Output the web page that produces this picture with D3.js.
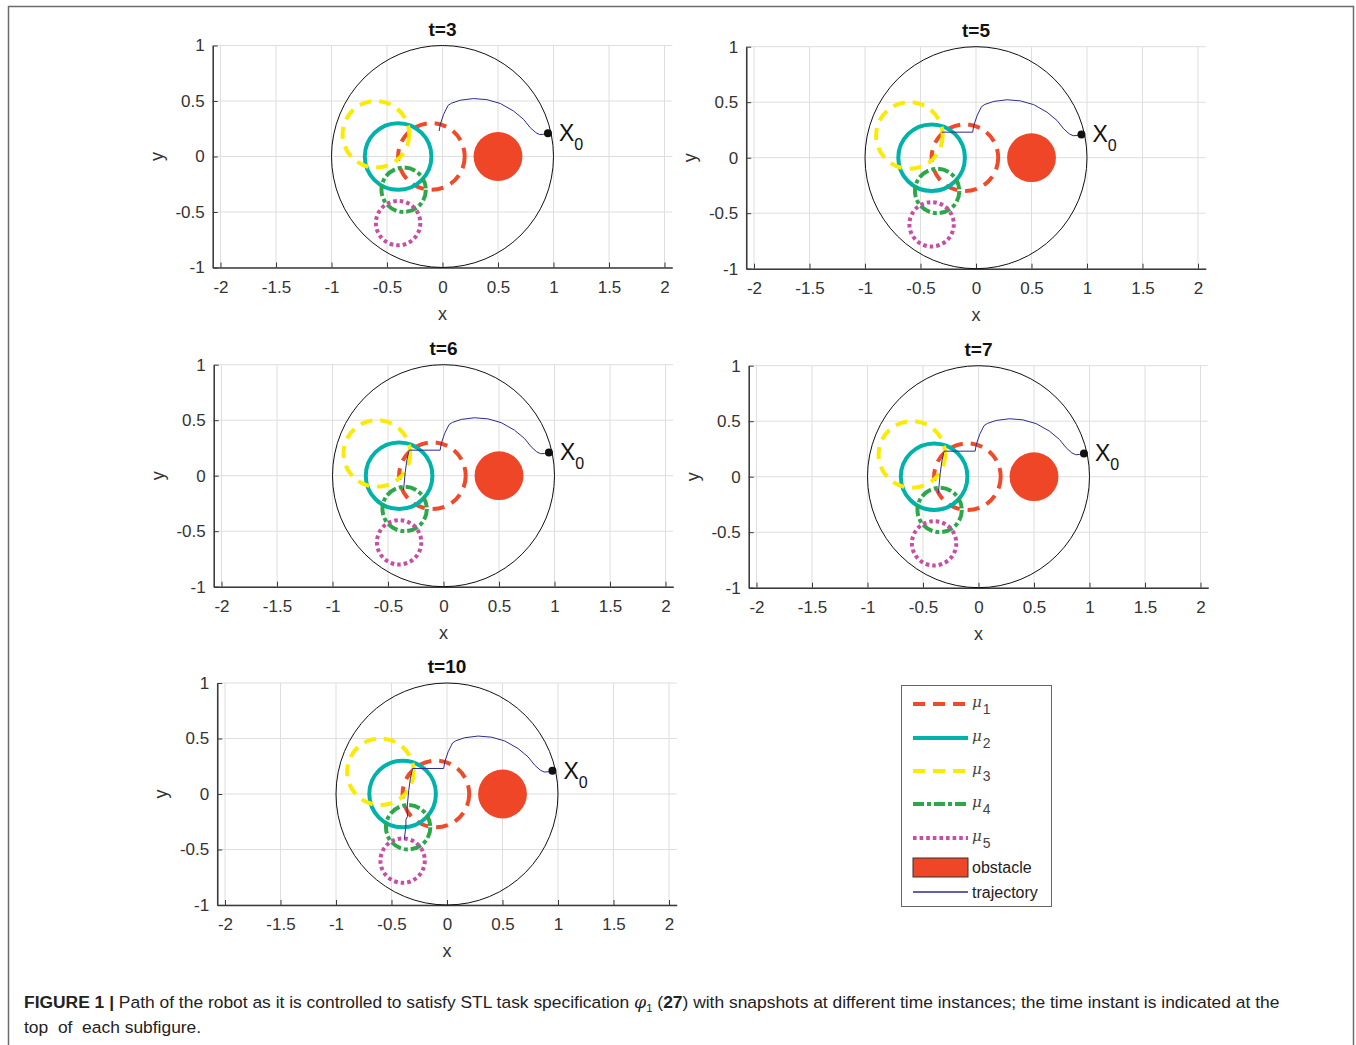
<!DOCTYPE html>
<html>
<head>
<meta charset="utf-8">
<script src="https://cdn.jsdelivr.net/npm/d3@7"></script>
<style>
  body { margin: 0; background: #fff; }
  svg { display: block; font-family: "Liberation Sans", Arial, Helvetica, sans-serif; }
</style>
</head>
<body>
<div id="chart"></div>
<script>

// ---------- data ----------
const panelTitles = ["t=3", "t=5", "t=6", "t=7", "t=10"];
const panelPoints = [16, 17, 20, 21, 25];   // trajectory points visible in each snapshot

const xTicks = [-2, -1.5, -1, -0.5, 0, 0.5, 1, 1.5, 2];
const yTicks = [-1, -0.5, 0, 0.5, 1];

const regionSubs = ["1", "2", "3", "4", "5"];
const regionX = [-0.1, -0.4, -0.6, -0.35, -0.4];
const regionY = [0, 0, 0.2, -0.3, -0.6];
const regionR = [0.3, 0.3, 0.3, 0.2, 0.2];

const obstacleX = 0.5, obstacleY = 0, obstacleR = 0.22;
const workspaceR = 1;

const trajX = [0.95, 0.91, 0.875, 0.84, 0.79, 0.73, 0.64, 0.52, 0.40, 0.28, 0.16, 0.08, 0.05, 0.01, -0.02, -0.03,
               -0.31, -0.33, -0.345, -0.36, -0.36, -0.355, -0.37, -0.37, -0.385];
const trajY = [0.21, 0.20, 0.198, 0.215, 0.26, 0.335, 0.41, 0.478, 0.512, 0.522, 0.507, 0.48, 0.46, 0.38, 0.29, 0.23,
               0.23, 0.14, 0.03, -0.13, -0.15, -0.20, -0.23, -0.29, -0.41];

const legendLabels = ["obstacle", "trajectory"];

// ---------- layout / style ----------
const W = 1356, H = 1045;
const unit = 111;
const xMax = 2.07;
const panelCx = [442.5, 976, 443.5, 978.5, 447];
const panelCy = [156.5, 157.7, 475.7, 476.7, 794];

const regionStyle = [
  {color: "#ef4a2a", dash: "12,8"},
  {color: "#00b3aa", dash: null},
  {color: "#fbeb00", dash: "12,8"},
  {color: "#2ca84a", dash: "11,3,4,3"},
  {color: "#c64fa5", dash: "3.6,3"}
];
const obstacleColor = "#ee4627";
const trajColor = "#2e2b8f";
const gridColor = "#dedede";
const axisColor = "#3a3a3a";
const textColor = "#333";

const svg = d3.select("#chart").append("svg").attr("width", W).attr("height", H);

// outer figure frame
svg.append("rect").attr("x", 8.5).attr("y", 6.5).attr("width", 1345).attr("height", 1060)
   .attr("fill", "none").attr("stroke", "#6b6b6b").attr("stroke-width", 1.5);

function drawPanel(i) {
  const cx = panelCx[i], cy = panelCy[i];
  const x = d3.scaleLinear().domain([-xMax, xMax]).range([cx - xMax * unit, cx + xMax * unit]);
  const y = d3.scaleLinear().domain([-1, 1]).range([cy + unit, cy - unit]);
  const g = svg.append("g");

  // grid
  g.append("g").selectAll("line").data(xTicks).join("line")
    .attr("x1", d => x(d)).attr("x2", d => x(d)).attr("y1", y(-1)).attr("y2", y(1))
    .attr("stroke", gridColor).attr("stroke-width", 1);
  g.append("g").selectAll("line").data(yTicks).join("line")
    .attr("x1", x(-xMax)).attr("x2", x(xMax)).attr("y1", d => y(d)).attr("y2", d => y(d))
    .attr("stroke", gridColor).attr("stroke-width", 1);

  // axes
  const xAxis = g.append("g").attr("transform", `translate(0,${y(-1)})`)
    .call(d3.axisBottom(x).tickValues(xTicks).tickSize(-5).tickSizeOuter(0).tickPadding(13).tickFormat(d3.format("")));
  const yAxis = g.append("g").attr("transform", `translate(${x(-xMax)},0)`)
    .call(d3.axisLeft(y).tickValues(yTicks).tickSize(-5).tickSizeOuter(0).tickPadding(8).tickFormat(d3.format("")));
  [xAxis, yAxis].forEach(a => {
    a.select(".domain").attr("stroke", axisColor).attr("stroke-width", 1.6);
    a.selectAll(".tick line").attr("stroke", axisColor).attr("stroke-width", 1);
    a.selectAll(".tick text").attr("fill", textColor).style("font-size", "17px")
      .text(d => String(d).replace("−", "-"));
  });

  g.append("text").attr("x", cx).attr("y", y(-1) + 52).attr("text-anchor", "middle")
    .attr("fill", textColor).style("font-size", "18px").text("x");
  g.append("text").attr("transform", `translate(${x(-xMax) - 50},${cy}) rotate(-90)`)
    .attr("text-anchor", "middle").attr("fill", textColor).style("font-size", "18px").text("y");

  g.append("text").attr("x", cx).attr("y", y(1) - 10).attr("text-anchor", "middle")
    .attr("fill", "#111").style("font-size", "19px").style("font-weight", "bold").text(panelTitles[i]);

  // workspace boundary
  g.append("circle").attr("cx", x(0)).attr("cy", y(0)).attr("r", x(workspaceR) - x(0))
    .attr("fill", "none").attr("stroke", "#111").attr("stroke-width", 1);

  // regions mu_1..mu_5
  g.append("g").selectAll("circle").data(d3.range(regionX.length)).join("circle")
    .attr("cx", k => x(regionX[k])).attr("cy", k => y(regionY[k]))
    .attr("r", k => x(regionR[k]) - x(0))
    .attr("fill", "none")
    .attr("stroke", k => regionStyle[k].color).attr("stroke-width", 4)
    .attr("stroke-dasharray", k => regionStyle[k].dash);

  // obstacle
  g.append("circle").attr("cx", x(obstacleX)).attr("cy", y(obstacleY)).attr("r", x(obstacleR) - x(0))
    .attr("fill", obstacleColor);

  // trajectory
  const pts = d3.range(panelPoints[i]).map(k => [x(trajX[k]), y(trajY[k])]);
  g.append("path").attr("d", d3.line()(pts)).attr("fill", "none")
    .attr("stroke", trajColor).attr("stroke-width", 1);

  // start point
  const sx = x(trajX[0]), sy = y(trajY[0]);
  g.append("circle").attr("cx", sx).attr("cy", sy).attr("r", 4).attr("fill", "#111");
  const lbl = g.append("text").attr("x", sx + 11).attr("y", sy + 8).attr("fill", "#111").style("font-size", "23px");
  lbl.append("tspan").text("X");
  lbl.append("tspan").attr("dy", 9).style("font-size", "16px").text("0");
}

d3.range(panelTitles.length).forEach(drawPanel);

// ---------- legend ----------
const lg = svg.append("g");
lg.append("rect").attr("x", 901.5).attr("y", 685.5).attr("width", 150).attr("height", 221)
  .attr("fill", "#fff").attr("stroke", "#666").attr("stroke-width", 1);
const legendY = [704, 738, 771, 804, 838, 867, 892];
regionSubs.forEach((s, k) => {
  lg.append("line").attr("x1", 913).attr("x2", 968).attr("y1", legendY[k]).attr("y2", legendY[k])
    .attr("stroke", regionStyle[k].color).attr("stroke-width", 4)
    .attr("stroke-dasharray", regionStyle[k].dash);
  const t = lg.append("text").attr("x", 972).attr("y", legendY[k] + 3).attr("fill", "#444");
  t.append("tspan").style("font-size", "15px").style("font-style", "italic")
    .style("font-family", "'DejaVu Serif', serif").text("μ");
  t.append("tspan").attr("dx", 1).attr("dy", 7).style("font-size", "14px").text(s);
});
lg.append("rect").attr("x", 913).attr("y", 858).attr("width", 55).attr("height", 19)
  .attr("fill", obstacleColor).attr("stroke", "#333").attr("stroke-width", 1);
lg.append("line").attr("x1", 913).attr("x2", 968).attr("y1", legendY[6]).attr("y2", legendY[6])
  .attr("stroke", trajColor).attr("stroke-width", 1.5);
legendLabels.forEach((s, k) => {
  lg.append("text").attr("x", 972).attr("y", legendY[5 + k] + 6).attr("fill", "#222")
    .style("font-size", "16px").text(s);
});

// ---------- caption ----------
const cap1 = svg.append("text").attr("x", 24).attr("y", 1008).attr("fill", "#222").style("font-size", "17px");
cap1.append("tspan").style("font-weight", "bold").text("FIGURE 1 | ");
cap1.append("tspan").text("Path of the robot as it is controlled to satisfy STL task specification ");
cap1.append("tspan").style("font-style", "italic").style("font-family", "'DejaVu Serif', serif").text("φ");
cap1.append("tspan").attr("dy", 4).style("font-size", "11px").text("1");
cap1.append("tspan").attr("dy", -4).text(" (");
cap1.append("tspan").style("font-weight", "bold").text("27");
cap1.append("tspan").text(") with snapshots at different time instances; the time instant is indicated at the");
const cap2 = svg.append("text").attr("x", 24).attr("y", 1033).attr("fill", "#222").style("font-size", "17px")
  .style("white-space", "pre").text("top  of  each subfigure.");

const sc = 1256 / cap1.node().getComputedTextLength();
[cap1, cap2].forEach(c => c.attr("transform", `translate(24,0) scale(${sc},1) translate(-24,0)`));

</script>
</body>
</html>
